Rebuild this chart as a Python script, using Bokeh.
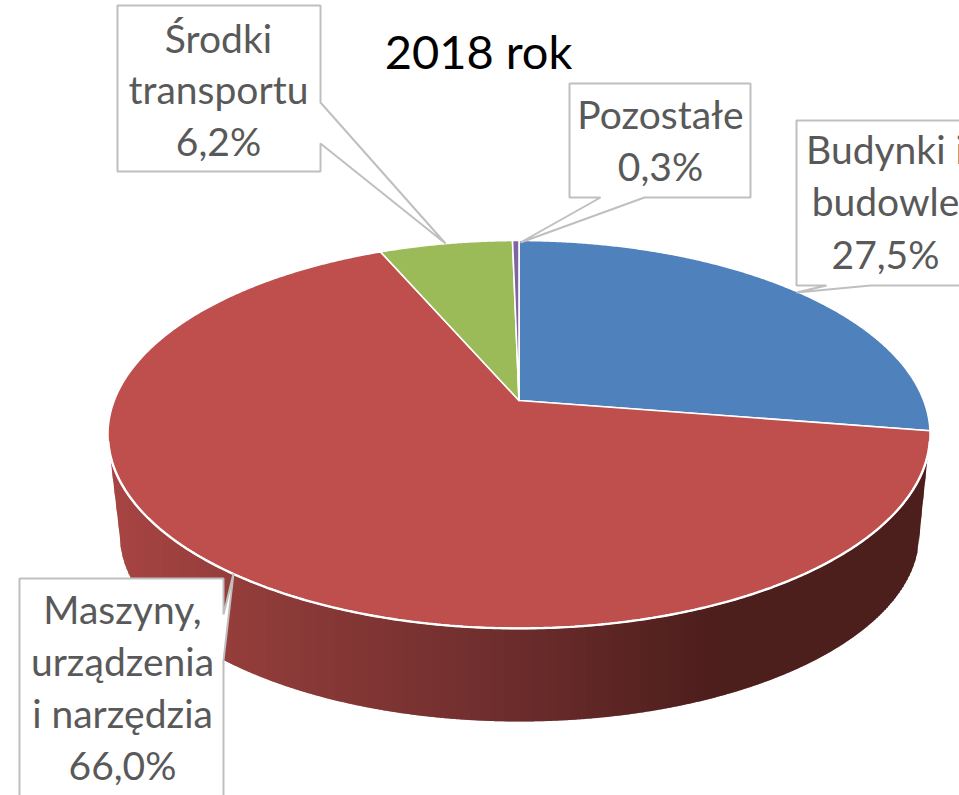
import numpy as np
from bokeh.plotting import figure
from bokeh.models import Range1d
from bokeh.core.properties import value
from bokeh.embed import file_html
from bokeh.resources import INLINE

# ---- data ----
categories = ["Budynki i budowle", "Maszyny, urządzenia i narzędzia", "Środki transportu", "Pozostałe"]
shares = [27.5, 66.0, 6.2, 0.3]
title_text = "2018 rok"
label_lines = [["Budynki i", "budowle"], ["Maszyny,", "urządzenia", "i narzędzia"], ["Środki", "transportu"], ["Pozostałe"]]

# ---- styling and layout ----
slice_colors = ["#4F81BD", "#BE4F4C", "#9BBB59", "#8064A2"]
TEXT = "#595959"
BORDER = "#BFBFBF"
FONT = "Lato"
W, H = 959, 795

# perspective of the pie's top face
CX, APEX_Y = 518.5, 400.0
A, B, K = 404.7, 188.0, 0.175


def project(theta):
    x, y = np.sin(theta), np.cos(theta)
    d = 1 + K * y
    return CX + A * x / d, APEX_Y - B * y / d


p = figure(width=W, height=H, x_range=Range1d(0, W), y_range=Range1d(H, 0),
           x_axis_type=None, y_axis_type=None, toolbar_location=None,
           output_backend="svg", min_border=0, outline_line_color=None,
           background_fill_color="white", border_fill_color="white",
           margin=0)
p.grid.visible = False

# ---- side wall: vertical strips with a left-to-right shade ----
theta_low = np.linspace(np.pi / 2, 3 * np.pi / 2, 1500)
tx, ty = project(theta_low)
order = np.argsort(tx)
tx, ty = tx[order], ty[order]


def top_y(x):
    return np.interp(x, tx, ty)


BX, BY, BRX, BRY = 519.0, 533.0, 400.0, 188.0
LEFT_X, RIGHT_X = 110.0, 927.0
SHOULDER_Y = 458.0


def bottom_y(x):
    x = np.asarray(x, dtype=float)
    inner = np.clip((x - BX) / BRX, -1, 1)
    y = BY + BRY * np.sqrt(1 - inner ** 2)
    left = x < BX - BRX
    right = x > BX + BRX
    y = np.where(left, SHOULDER_Y + (x - LEFT_X) / (BX - BRX - LEFT_X) * (BY - SHOULDER_Y), y)
    y = np.where(right, SHOULDER_Y + (RIGHT_X - x) / (RIGHT_X - BX - BRX) * (BY - SHOULDER_Y), y)
    return y


shade_x = [110, 300, 520, 720, 930]
shade_r = [168, 138, 108, 76, 76]
shade_g = [69, 58, 45, 30, 30]
shade_b = [67, 56, 44, 28, 28]

edges = np.arange(LEFT_X, RIGHT_X + 1, 2.0)
xs, ys, cols = [], [], []
for a, b in zip(edges[:-1], edges[1:]):
    b2 = min(b + 1, RIGHT_X)
    m = (a + b) / 2
    sx = np.array([a, b2, b2, a])
    sy = np.array([max(top_y(a) - 2, SHOULDER_Y) if a < 200 or a > 800 else top_y(a) - 2,
                   max(top_y(b2) - 2, SHOULDER_Y) if a < 200 or a > 800 else top_y(b2) - 2,
                   float(bottom_y(b2)), float(bottom_y(a))])
    xs.append(sx.tolist())
    ys.append(sy.tolist())
    cols.append("#%02X%02X%02X" % (int(np.interp(m, shade_x, shade_r)),
                                   int(np.interp(m, shade_x, shade_g)),
                                   int(np.interp(m, shade_x, shade_b))))
p.patches(xs, ys, fill_color=cols, line_color=None)

# ---- top face: one wedge per share, measured clockwise from 12 o'clock ----
start_deg = -shares[-1] / 100 * 360
bounds = start_deg + np.cumsum([0] + [shares[-1]] + shares[:-1]) / 100 * 360
wedge_specs = [(bounds[i + 1], bounds[i + 2], i) for i in range(3)] + [(bounds[0], bounds[1], 3)]
for lo, hi, i in wedge_specs:
    th = np.radians(np.linspace(lo, hi, max(int(hi - lo) * 3, 6)))
    ex, ey = project(th)
    p.patch([CX] + ex.tolist(), [APEX_Y] + ey.tolist(), fill_color=slice_colors[i],
            line_color="white", line_width=1.6, line_join="round")

# brighter white rim where the face meets the wall
rim_th = np.radians(np.linspace(102, 258, 300))
rx_, ry_ = project(rim_th)
p.line(rx_.tolist(), ry_.tolist(), line_color="white", line_width=2.4)

# ---- callouts ----
boxes = [
    ([796, 1010, 1010, 870, 796, 826, 796], [120, 120, 285, 285, 292, 285, 285]),
    ([19, 223, 223, 233, 223, 223, 19], [578, 578, 614, 573, 660, 830, 830]),
    ([117, 320, 320, 445, 320, 320, 117], [5, 5, 102, 243, 143, 171, 171]),
    ([569, 750, 750, 644, 520, 600, 569], [83, 83, 197, 197, 242, 197, 197]),
]
for bx, by in boxes:
    p.patch(bx, by, fill_color="white", line_color=BORDER, line_width=2)

label_x = [885, 122, 218, 660]
label_y = [148, 608, 37, 113]
LINE = [52.5, 52, 51.5, 52]
tx_, ty_, tt_ = [], [], []
for i in range(4):
    lines = label_lines[i] + [f"{shares[i]:.1f}".replace(".", ",") + "%"]
    for j, s in enumerate(lines):
        tx_.append(label_x[i])
        ty_.append(label_y[i] + j * LINE[i])
        tt_.append(s)
p.text(tx_, ty_, text=tt_, text_color=TEXT, text_font=value(FONT), text_font_size="39px",
       text_align="center", text_baseline="alphabetic")

p.text([478], [50], text=[title_text], text_color="black", text_font=value(FONT),
       text_font_size="47px", text_align="center", text_baseline="alphabetic")

open("out.html", "w").write(file_html(p, INLINE))
